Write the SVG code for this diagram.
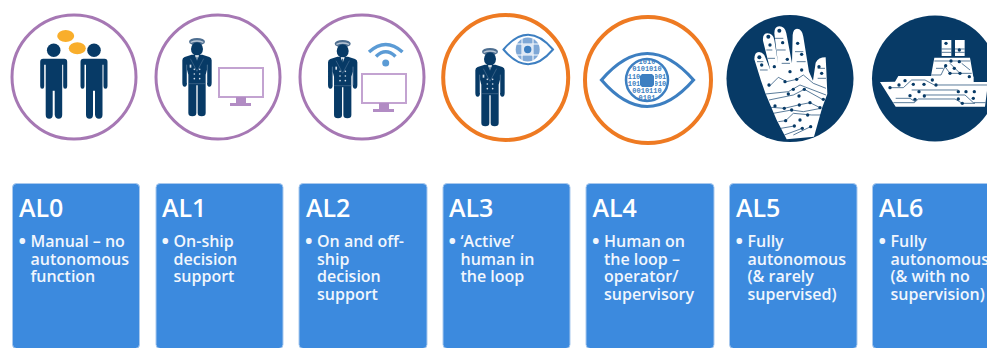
<svg xmlns="http://www.w3.org/2000/svg" width="987" height="348" viewBox="0 0 987 348">
<style>
.card{fill:#3c8ade;stroke:#a9c9ee;stroke-width:1}
.t{font-family:"Open Sans","Noto Sans",sans-serif;font-size:25px;font-weight:600;fill:#fff}
.b{font-family:"Open Sans","Noto Sans",sans-serif;font-size:16px;font-weight:600;fill:#f1f6fd}
.bu{font-family:"Open Sans","Noto Sans",sans-serif;font-size:20px;font-weight:700;fill:#f1f6fd}
.pur{fill:#fff;stroke:#a678b4;stroke-width:3}
.org{fill:#fff;stroke:#ee7a22;stroke-width:4}
.navy{fill:#073a66}
.mon{fill:#fff;stroke:#c3a3d1;stroke-width:2}
.st{fill:#b28cc4}
.tr{fill:none;stroke:#073a66;stroke-width:2;stroke-linejoin:round}
.dig{font-family:"Liberation Mono",monospace;font-size:7px;font-weight:700;fill:#3d7fc1}
</style>
<defs>
<g id="man">
<circle cx="0" cy="-8.5" r="6.8" class="navy"/>
<path class="navy" d="M-10.5 0H10.5Q13.500 0 13.500 3V27.500Q13.500 30 11.500 30T9.500 27.500V6H8.500V56Q8.500 60 5 60T1 56V32H-1V56Q-1 60-4.500 60T-8 56V6H-9.500V27.500Q-9.500 30-11.500 30T-13.500 27.500V3Q-13.500 0-10.500 0Z"/>
</g>
<g id="officer">
<ellipse cx="0" cy="11" rx="24" ry="11" fill="#4d6e90"/>
<path d="M-19 13Q0 5 19 13" fill="none" stroke="#b9c7d6" stroke-width="4"/>
<ellipse cx="0" cy="33" rx="18" ry="20" class="navy"/>
<path class="navy" d="M-16 50L-37 57Q-44 59-44 67V135Q-44 146-37 146T-30 135V95L-26 110V225Q-26 235-14 235T-2 225V142H2V225Q2 235 14 235T26 225V110L30 95V135Q30 146 37 146T44 135V67Q44 59 37 57L16 50Z"/>
<path d="M-6 52L0 68L6 52" fill="#fff"/>
<path d="M0 56V78" stroke="#073a66" stroke-width="3"/>
<path d="M-31 80V135M31 80V135" fill="none" stroke="#8ea6be" stroke-width="1.500"/>
<path d="M-26 137H26M-20 62L0 100L20 62" fill="none" stroke="#5f7f9f" stroke-width="1.500"/>
<g fill="#d7e0ea"><circle cx="-8" cy="94" r="2.500"/><circle cx="8" cy="94" r="2.500"/><circle cx="-8" cy="108" r="2.500"/><circle cx="8" cy="108" r="2.500"/><circle cx="-8" cy="122" r="2.500"/><circle cx="8" cy="122" r="2.500"/><rect x="-22" y="80" width="5" height="9"/></g>
</g>
<g id="monitor">
<rect class="mon" x="1" y="1" width="44" height="29"/>
<rect class="st" x="18" y="30" width="10" height="7"/>
<rect class="st" x="12" y="36" width="21" height="3"/>
</g>
<clipPath id="iris"><circle cx="647" cy="80" r="21"/></clipPath>
<clipPath id="hull"><path d="M15 141L60 140L70 123L168 123L178 68H285L295 125H296V141H336V168L330 215H62Z"/></clipPath>
</defs>
<rect width="987" height="348" fill="#fff"/>

<g id="al0">
<circle class="pur" cx="74" cy="77" r="62"/>
<ellipse cx="65.700" cy="36" rx="8.500" ry="6" fill="#f9ae2b"/><ellipse cx="77.300" cy="48.300" rx="8.500" ry="6" fill="#f9ae2b"/>
<use href="#man" x="53.700" y="58.700"/><use href="#man" x="94" y="58.700"/>
<rect class="card" x="12.500" y="183.500" width="127" height="165" rx="4"/>
<text class="t" x="19" y="217">AL0</text><text class="bu" x="18.500" y="248">•</text>
<text class="b"><tspan x="30.500" y="247">Manual – no</tspan><tspan x="30.500" y="265">autonomous</tspan><tspan x="30.500" y="282">function</tspan></text>
</g>

<g id="al1">
<circle class="pur" cx="218" cy="77" r="62"/>
<use href="#officer" transform="translate(197 38) scale(.3333)"/>
<use href="#monitor" x="218" y="67"/>
<rect class="card" x="156" y="183.500" width="127" height="165" rx="4"/>
<text class="t" x="162" y="217">AL1</text><text class="bu" x="161.500" y="248">•</text>
<text class="b"><tspan x="173.500" y="247">On-ship</tspan><tspan x="173.500" y="265">decision</tspan><tspan x="173.500" y="282">support</tspan></text>
</g>

<g id="al2">
<circle class="pur" cx="362" cy="77" r="62"/>
<use href="#officer" transform="translate(342.700 40) scale(.3333)"/>
<use href="#monitor" x="361" y="73"/>
<circle cx="385.700" cy="63" r="3.500" fill="#5b9bd5"/>
<path d="M369 52Q385.700 37 402.500 52" fill="none" stroke="#5b9bd5" stroke-width="3.500"/>
<path d="M376 56.500Q385.700 47 395.500 56.500" fill="none" stroke="#5b9bd5" stroke-width="3.500"/>
<rect class="card" x="299" y="183.500" width="128" height="165" rx="4"/>
<text class="t" x="306" y="217">AL2</text><text class="bu" x="305" y="248">•</text>
<text class="b"><tspan x="317" y="247">On and off-</tspan><tspan x="317" y="265">ship</tspan><tspan x="317" y="282">decision</tspan><tspan x="317" y="300">support</tspan></text>
</g>

<g id="al3">
<circle class="org" cx="505.700" cy="77.500" r="62.500"/>
<use href="#officer" transform="translate(490 48) scale(.3333)"/>
<path d="M503.500 49.500Q528 20 553 49.500Q528 79 503.500 49.500Z" fill="#fff" stroke="#3d7fc1" stroke-width="2"/>
<circle cx="527.700" cy="49.500" r="12" fill="#7fa8d6"/>
<path d="M516.500 44H539M516.500 55H539M522 38.500V61M533 38.500V61" stroke="#fff" stroke-width="1" fill="none"/>
<rect x="522" y="44" width="11" height="11" fill="#dfe9f5"/>
<circle cx="527.700" cy="49.500" r="3.700" fill="#3d7fc1"/>
<rect class="card" x="443" y="183.500" width="127" height="165" rx="4"/>
<text class="t" x="449" y="217">AL3</text><text class="bu" x="448.500" y="248">•</text>
<text class="b"><tspan x="460.500" y="247">‘Active’</tspan><tspan x="460.500" y="265">human in</tspan><tspan x="460.500" y="282">the loop</tspan></text>
</g>

<g id="al4">
<circle class="org" cx="648" cy="80" r="63"/>
<path d="M601.500 80Q647 27 693.500 80Q647 133 601.500 80Z" fill="#fff" stroke="#3d7fc1" stroke-width="3.200"/>
<circle cx="647" cy="80" r="21" fill="#fff" stroke="#3d7fc1" stroke-width="2.500"/>
<g clip-path="url(#iris)">
<text class="dig" x="647" y="64" text-anchor="middle">1010</text>
<text class="dig" x="647" y="71" text-anchor="middle">0101010</text>
<text class="dig" x="634" y="78.500" text-anchor="middle">110</text><text class="dig" x="660" y="78.500" text-anchor="middle">001</text>
<text class="dig" x="634" y="86" text-anchor="middle">101</text><text class="dig" x="660" y="86" text-anchor="middle">010</text>
<text class="dig" x="647" y="93" text-anchor="middle">0010110</text>
<text class="dig" x="647" y="100" text-anchor="middle">0101</text>
</g>
<rect x="640" y="72" width="15" height="16" fill="#fff"/>
<path d="M642 74H652L654 76V85L652 87H642L640 85V76Z" fill="#3d7fc1"/>
<rect class="card" x="586" y="183.500" width="128" height="165" rx="4"/>
<text class="t" x="592.500" y="217">AL4</text><text class="bu" x="592" y="248">•</text>
<text class="b"><tspan x="604" y="247">Human on</tspan><tspan x="604" y="265">the loop –</tspan><tspan x="604" y="282">operator/</tspan><tspan x="604" y="300">supervisory</tspan></text>
</g>

<g id="al5">
<circle class="navy" cx="790" cy="78.500" r="63.500"/>
<g transform="translate(745 20) scale(.3333)">
<path fill="#fff" d="M125 358L95 300L62 222L48 182L28 118Q28 96 42 96Q56 96 62 115L76 150L54 62Q52 40 68 40Q84 40 88 60L99 130L88 40Q88 19 103 19Q120 19 124 40L141 130L143 45Q145 26 156 26Q172 27 175 50L192 155L204 182L212 128Q220 112 242 112L244 150L247 222L232 262L207 350Z"/>
<g class="tr">
<path d="M36 125H55M45 150H68M64 90H82M68 115H90M90 55H115M96 90H122M110 130H135M150 95H175M155 125H182M218 145H240M218 175H243"/>
<path d="M72 200L100 172L125 185L155 178L175 165L205 190L243 205"/>
<path d="M62 222L130 215L165 195L243 225M72 240L145 225L178 208L232 238"/>
<path d="M78 262L118 265L160 255L195 248L225 263M85 280L140 270L175 275L228 265"/>
<path d="M100 305L122 302L145 280L200 285L228 285M108 325L148 318M118 345L172 325M145 345L197 320"/>
</g>
<g class="navy"><circle cx="43" cy="112" r="6"/><circle cx="50" cy="135" r="5"/><circle cx="70" cy="50" r="6"/><circle cx="75" cy="75" r="5"/><circle cx="88" cy="140" r="5"/><circle cx="103" cy="32" r="6"/><circle cx="113" cy="68" r="5"/><circle cx="127" cy="118" r="5"/><circle cx="135" cy="155" r="5"/><circle cx="158" cy="70" r="5"/><circle cx="170" cy="103" r="5"/><circle cx="170" cy="150" r="5"/><circle cx="230" cy="160" r="5"/><circle cx="222" cy="140" r="5"/><circle cx="120" cy="185" r="5"/><circle cx="155" cy="178" r="5"/><circle cx="72" cy="195" r="5"/><circle cx="145" cy="208" r="5"/><circle cx="130" cy="222" r="5"/><circle cx="178" cy="208" r="5"/><circle cx="162" cy="228" r="5"/><circle cx="90" cy="258" r="5"/><circle cx="118" cy="265" r="5"/><circle cx="140" cy="270" r="5"/><circle cx="163" cy="255" r="5"/><circle cx="195" cy="248" r="5"/><circle cx="235" cy="238" r="5"/><circle cx="225" cy="263" r="5"/><circle cx="122" cy="302" r="5"/><circle cx="148" cy="318" r="5"/><circle cx="188" cy="285" r="5"/><circle cx="165" cy="300" r="5"/><circle cx="172" cy="325" r="5"/><circle cx="197" cy="320" r="5"/></g>
</g>
<rect class="card" x="729.500" y="183.500" width="127.500" height="165" rx="4"/>
<text class="t" x="736" y="217">AL5</text><text class="bu" x="735.500" y="248">•</text>
<text class="b"><tspan x="747.500" y="247">Fully</tspan><tspan x="747.500" y="265">autonomous</tspan><tspan x="747.500" y="282">(&amp; rarely</tspan><tspan x="747.500" y="300">supervised)</tspan></text>
</g>

<g id="al6">
<circle class="navy" cx="935" cy="78.500" r="63"/>
<g transform="translate(875 35) scale(.3333)">
<rect x="200" y="15" width="29" height="48" fill="#fff"/><rect x="240" y="15" width="29" height="48" fill="#fff"/>
<path fill="#fff" d="M15 141L60 140L70 123L168 123L178 68H285L295 125H296V141H336V168L330 215H62Z"/>
<g class="tr" clip-path="url(#hull)">
<path d="M178 78H285M168 120L198 120L210 95L225 115H290M183 100L205 100M225 85L255 115M260 85L285 105"/>
<path d="M45 158H85L110 135H150L178 150H336"/>
<path d="M110 165H250M62 190H105L120 200M145 180H270L295 203H336M55 203H118L130 192H240L262 205H300"/>
</g>
<path class="tr" d="M200 42H229M240 42H269M200 52H229M240 52H269"/>
<g class="navy"><circle cx="213" cy="25" r="5"/><circle cx="253" cy="45" r="5"/><circle cx="228" cy="78" r="5"/><circle cx="253" cy="80" r="5"/><circle cx="212" cy="92" r="5"/><circle cx="238" cy="100" r="5"/><circle cx="225" cy="115" r="5"/><circle cx="255" cy="115" r="5"/><circle cx="283" cy="125" r="5"/><circle cx="172" cy="135" r="5"/><circle cx="90" cy="137" r="5"/><circle cx="72" cy="150" r="5"/><circle cx="45" cy="158" r="5"/><circle cx="115" cy="148" r="5"/><circle cx="147" cy="148" r="5"/><circle cx="183" cy="150" r="5"/><circle cx="132" cy="170" r="5"/><circle cx="105" cy="182" r="5"/><circle cx="148" cy="183" r="5"/><circle cx="120" cy="193" r="5"/><circle cx="250" cy="170" r="5"/><circle cx="273" cy="170" r="5"/><circle cx="298" cy="170" r="5"/><circle cx="250" cy="192" r="5"/><circle cx="295" cy="190" r="5"/><circle cx="262" cy="205" r="5"/></g>
</g>
<rect class="card" x="872.500" y="183.500" width="127" height="165" rx="4"/>
<text class="t" x="879" y="217">AL6</text><text class="bu" x="878.500" y="248">•</text>
<text class="b"><tspan x="890.500" y="247">Fully</tspan><tspan x="890.500" y="265">autonomous</tspan><tspan x="890.500" y="282">(&amp; with no</tspan><tspan x="890.500" y="300">supervision)</tspan></text>
</g>
</svg>
